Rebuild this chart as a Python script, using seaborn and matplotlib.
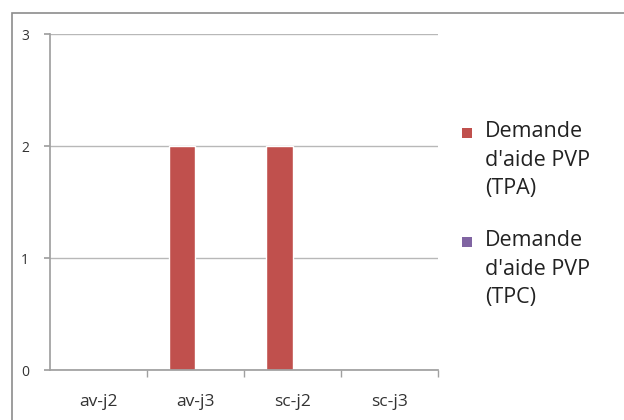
import seaborn as sns
import pandas as pd
import matplotlib.pyplot as plt
from matplotlib.patches import Rectangle

categories = ['av-j2', 'av-j3', 'sc-j2', 'sc-j3']
tpa = [0, 2, 2, 0]
tpc = [0, 0, 0, 0]
series = ["Demande\nd'aide PVP\n(TPA)", "Demande\nd'aide PVP\n(TPC)"]
colors = ['#C0504D', '#8064A2']

df = pd.DataFrame({
    'cat': categories * 2,
    'val': tpa + tpc,
    'serie': [series[0]] * 4 + [series[1]] * 4,
})

sns.set_theme(style='white')
plt.rcParams['font.family'] = ['Open Sans', 'DejaVu Sans']

fig = plt.figure(figsize=(6.24, 4.2), dpi=100)
ax = fig.add_axes([0.080, 0.119, 0.622, 0.800])

sns.barplot(data=df, x='cat', y='val', hue='serie', palette=colors,
            width=0.54, ax=ax, saturation=1, errorbar=None, legend=False)

ax.set_ylim(0, 3)
ax.set_yticks([0, 1, 2, 3])
ax.set_xlim(-0.5, 3.5)
ax.set_xlabel('')
ax.set_ylabel('')
ax.yaxis.grid(True, color='#b8b8b8', linewidth=1)
ax.set_axisbelow(True)
for s in ['top', 'right']:
    ax.spines[s].set_visible(False)
for s in ['left', 'bottom']:
    ax.spines[s].set_color('#a0a0a0')
ax.tick_params(axis='x', length=0, labelsize=12.5, colors='#333333', pad=17)
ax.tick_params(axis='y', length=4, left=True, color='#a0a0a0', labelsize=10, colors='#333333', pad=11)
ax.set_xticks([0.5, 1.5, 2.5, 3.5], minor=True)
ax.tick_params(axis='x', which='minor', length=5, bottom=True, color='#a0a0a0')

# legend drawn by hand so that each square sits on the first line of its label
y0 = 133
for i, (lab, col) in enumerate(zip(series, colors)):
    yc = y0 + i * 109
    fig.patches.append(Rectangle((462 / 624, 1 - (yc + 5) / 420), 10 / 624, 10 / 420,
                                 transform=fig.transFigure, facecolor=col, edgecolor='none'))
    fig.text(485 / 624, 1 - (yc - 12) / 420, lab, ha='left', va='top', fontsize=15.5,
             color='#222222', linespacing=1.48)

fig.patches.append(Rectangle((12 / 624, -0.01), 0.985, 1 - 13 / 420 + 0.01,
                             transform=fig.transFigure, fill=False,
                             edgecolor='#8c8c8c', linewidth=1.2))

fig.savefig('out.png', dpi=100)
